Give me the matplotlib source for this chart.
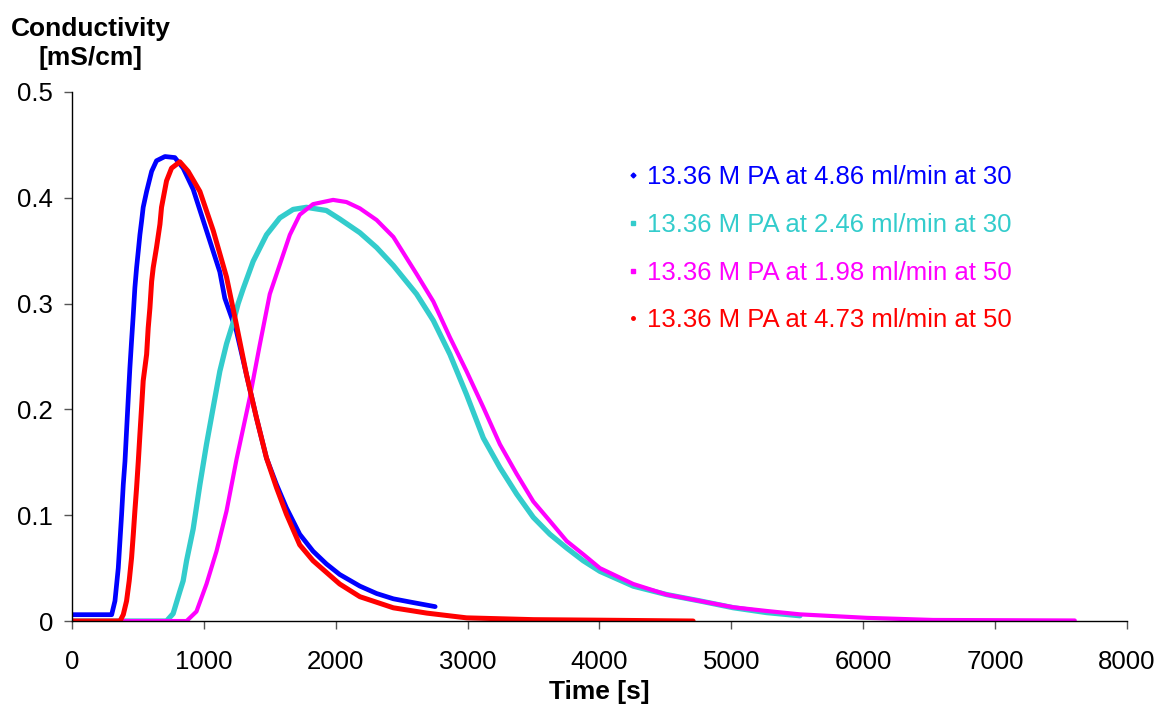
import matplotlib
matplotlib.use("Agg")
import matplotlib.pyplot as plt
from matplotlib.lines import Line2D

plt.rcParams['font.family'] = ['Liberation Sans', 'DejaVu Sans']

# values (time in s, conductivity in mS/cm)
blue_t = [0, 301, 326, 351, 364, 376, 389, 402, 414, 427, 439, 452, 465, 477, 490, 503, 515, 528,
          540, 566, 604, 641, 705, 780, 843, 919, 1020, 1121, 1159, 1247, 1323, 1399, 1475, 1551,
          1626, 1727, 1828, 1929, 2030, 2183, 2310, 2437, 2563, 2754]
blue_y = [0.006, 0.006, 0.019, 0.050, 0.076, 0.10, 0.129, 0.151, 0.18, 0.211, 0.239, 0.265, 0.29,
          0.315, 0.334, 0.35, 0.365, 0.378, 0.391, 0.406, 0.425, 0.435, 0.439, 0.438, 0.428, 0.408,
          0.369, 0.330, 0.305, 0.274, 0.233, 0.192, 0.154, 0.129, 0.107, 0.082, 0.066, 0.054,
          0.044, 0.033, 0.026, 0.021, 0.018, 0.0136]

cyan_t = [0, 717, 767, 818, 843, 869, 919, 970, 1020, 1071, 1121, 1172, 1222, 1260, 1298, 1374,
          1475, 1576, 1677, 1778, 1929, 2030, 2183, 2310, 2437, 2613, 2740, 2866, 2992, 3119, 3245,
          3372, 3498, 3624, 3751, 3877, 4003, 4256, 4509, 4761, 5014, 5267, 5520]
cyan_y = [0, 0, 0.007, 0.028, 0.038, 0.057, 0.087, 0.129, 0.167, 0.202, 0.236, 0.262, 0.282, 0.30,
          0.314, 0.34, 0.365, 0.381, 0.389, 0.391, 0.388, 0.38, 0.367, 0.353, 0.336, 0.309, 0.284,
          0.252, 0.214, 0.173, 0.145, 0.12, 0.098, 0.082, 0.069, 0.057, 0.047, 0.033, 0.025,
          0.019, 0.0126, 0.008, 0.005]

mag_t = [0, 869, 944, 1020, 1096, 1172, 1248, 1348, 1424, 1500, 1576, 1652, 1727, 1828, 1980,
         2081, 2183, 2310, 2437, 2613, 2740, 2866, 2992, 3119, 3245, 3372, 3498, 3624, 3751, 3877,
         4003, 4256, 4509, 4761, 5014, 5267, 5520, 6026, 6530, 7604]
mag_y = [0, 0, 0.009, 0.035, 0.066, 0.104, 0.153, 0.211, 0.261, 0.309, 0.337, 0.365, 0.384,
         0.394, 0.398, 0.396, 0.39, 0.379, 0.363, 0.328, 0.302, 0.268, 0.236, 0.202, 0.167, 0.139,
         0.113, 0.0945, 0.0756, 0.063, 0.050, 0.035, 0.025, 0.019, 0.013, 0.0095, 0.0063, 0.003,
         0.001, 0.0005]

red_t = [0, 364, 389, 414, 434, 452, 465, 477, 490, 503, 515, 528, 540, 566, 578, 591, 604, 616,
         641, 667, 679, 717, 755, 818, 881, 970, 1071, 1172, 1247, 1323, 1399, 1475, 1551, 1626,
         1727, 1828, 1929, 2030, 2183, 2437, 2690, 2992, 3498, 4003, 4710]
red_y = [0, 0, 0.006, 0.019, 0.038, 0.06, 0.082, 0.104, 0.126, 0.151, 0.176, 0.202, 0.227, 0.252,
         0.277, 0.296, 0.321, 0.334, 0.353, 0.375, 0.391, 0.416, 0.428, 0.434, 0.425, 0.406, 0.369,
         0.325, 0.28, 0.233, 0.192, 0.154, 0.126, 0.101, 0.072, 0.057, 0.046, 0.035, 0.023,
         0.0125, 0.0075, 0.003, 0.0013, 0.0008, 0.0]

labels = ["13.36 M PA at 4.86 ml/min at 30",
          "13.36 M PA at 2.46 ml/min at 30",
          "13.36 M PA at 1.98 ml/min at 50",
          "13.36 M PA at 4.73 ml/min at 50"]
colors = ["#0000FF", "#33CCCC", "#FF00FF", "#FF0000"]
markers = ["D", "s", "s", "o"]

fig = plt.figure(figsize=(11.59, 7.07), dpi=100)
ax = fig.add_axes([0.0621, 0.1216, 0.9103, 0.7483])

series = [(blue_t, blue_y), (cyan_t, cyan_y), (mag_t, mag_y), (red_t, red_y)]
widths = [3.4, 3.8, 3.0, 3.6]
for (t, y), c, w in zip(series, colors, widths):
    ax.plot(t, y, color=c, lw=w, solid_capstyle='round')

ax.set_xlim(0, 8000)
ax.set_ylim(0, 0.5)
ax.set_xticks(range(0, 8001, 1000))
ax.set_yticks([0, 0.1, 0.2, 0.3, 0.4, 0.5])
ax.set_yticklabels(["0", "0.1", "0.2", "0.3", "0.4", "0.5"])
for s in ['top', 'right']:
    ax.spines[s].set_visible(False)
for s in ['left', 'bottom']:
    ax.spines[s].set_color('black')
    ax.spines[s].set_linewidth(1.0)
ax.tick_params(axis='both', direction='out', length=5.5, width=1, color='#555555', labelsize=18.5)
ax.tick_params(axis='x', pad=15.5)
ax.tick_params(axis='y', pad=8)

ax.set_xlabel("Time [s]", fontsize=19, fontweight='bold', labelpad=4.5)
fig.text(0.078, 0.939, "Conductivity\n[mS/cm]", ha='center', va='center',
         fontsize=19, fontweight='bold', linespacing=1.25)

handles = [Line2D([], [], ls='none', marker=m, color=c, markersize=2.5)
           for m, c in zip(markers, colors)]
leg = ax.legend(handles, labels, loc='upper left', bbox_to_anchor=(0.504, 0.905),
                frameon=False, fontsize=18.5, handlelength=0.5, handletextpad=0.3,
                labelspacing=0.92, labelcolor=colors)

fig.savefig("out.png", dpi=100)
